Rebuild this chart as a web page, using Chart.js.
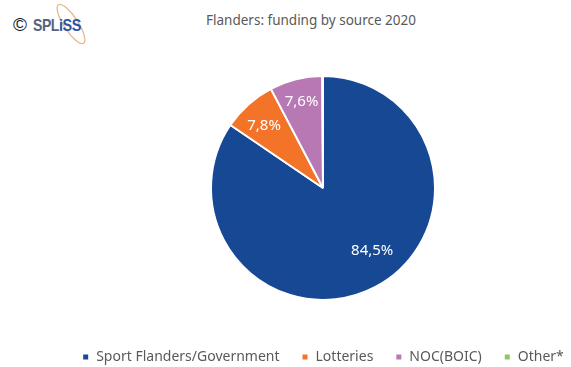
<!DOCTYPE html>
<html>
<head>
<meta charset="utf-8">
<script src="https://cdn.jsdelivr.net/npm/chart.js@4"></script>
<style>
  html, body { margin: 0; padding: 0; background: #fff; }
  body { width: 571px; height: 367px; overflow: hidden; position: relative; }
  #logo { position: absolute; left: 0; top: 0; }
  #title {
    position: absolute; top: 11px; left: 0; width: 622px; text-align: center;
    font-family: "Noto Sans", sans-serif; font-size: 13.5px; color: #595959;
  }
  #pie { position: absolute; left: 0; top: 0; }
</style>
</head>
<body>
<svg id="logo" width="100" height="50" viewBox="0 0 100 50">
  <ellipse cx="71" cy="24" rx="7" ry="23" transform="rotate(-33 71 24)" fill="none" stroke="#e3b98c" stroke-width="1.3"/>
  <text x="13" y="31" font-family="Liberation Sans, sans-serif" font-size="19" fill="#1a1a1a">©</text>
  <text y="31" font-family="Liberation Sans, sans-serif" font-weight="bold" font-size="17" letter-spacing="-0.5">
    <tspan x="33" fill="#56627e" textLength="26" lengthAdjust="spacingAndGlyphs">SPL</tspan><tspan x="59" fill="#2c55a6" textLength="22" lengthAdjust="spacingAndGlyphs">iSS</tspan>
  </text>
</svg>
<div id="title">Flanders: funding by source 2020</div>
<canvas id="pie" width="650" height="374"></canvas>
<script>
const sources = ["Sport Flanders/Government", "Lotteries", "NOC(BOIC)", "Other*"];
const shares = [84.5, 7.8, 7.6, 0.1];
const shareLabels = ["84,5%", "7,8%", "7,6%", ""];
const colors = ["#174894", "#f37329", "#b878b4", "#8dc95b"];

// white percentage text inside each slice
const sliceLabels = {
  id: "sliceLabels",
  afterDatasetsDraw(chart) {
    const ctx = chart.ctx;
    const arcs = chart.getDatasetMeta(0).data;
    ctx.save();
    ctx.fillStyle = "#fff";
    ctx.font = "15px 'Noto Sans', sans-serif";
    ctx.textAlign = "center";
    ctx.textBaseline = "middle";
    arcs.forEach((arc, i) => {
      if (!shareLabels[i]) return;
      const { x, y, startAngle, endAngle, outerRadius } = arc.getProps(
        ["x", "y", "startAngle", "endAngle", "outerRadius"], true);
      // the big slice's label sits a bit off its mid angle
      const mid = (startAngle + endAngle) / 2 - (shares[i] > 50 ? 0.18 : 0);
      const r = outerRadius * (shares[i] > 50 ? 0.71 : 0.79);
      ctx.fillText(shareLabels[i], x + Math.cos(mid) * r, y + Math.sin(mid) * r + (i === 1 ? 4 : 0));
    });
    ctx.restore();
  }
};

new Chart(document.getElementById("pie"), {
  type: "pie",
  data: {
    labels: sources,
    datasets: [{
      data: shares,
      backgroundColor: colors,
      borderColor: "#fff",
      borderWidth: 2
    }]
  },
  options: {
    responsive: false,
    animation: false,
    radius: 112,
    layout: { padding: { top: 48, left: 0, right: 4, bottom: 0 } },
    plugins: {
      tooltip: { enabled: false },
      legend: {
        position: "bottom",
        labels: {
          boxWidth: 7,
          boxHeight: 7,
          padding: 22,
          color: "#595959",
          font: { family: "'Noto Sans', sans-serif", size: 14 }
        }
      }
    }
  },
  plugins: [sliceLabels]
});
</script>
</body>
</html>
